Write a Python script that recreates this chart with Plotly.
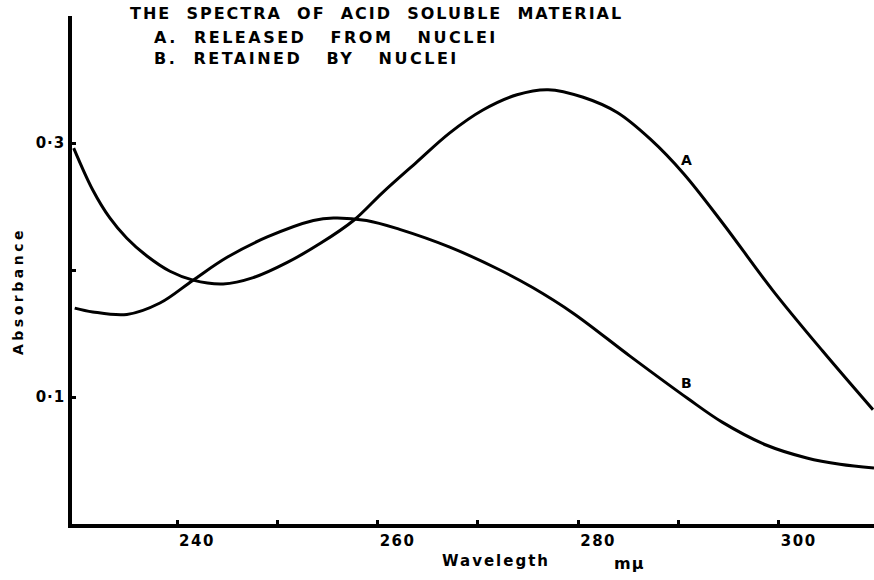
import plotly.graph_objects as go

# Curve A: released from nuclei
a_wavelength = [229.7, 231.6, 233.3, 235.0, 237.0, 239.3, 241.6, 244.6, 247.6, 251.0,
                254.3, 257.6, 260.5, 263.9, 267.2, 270.5, 273.9, 277.0, 280.5, 283.9,
                287.2, 290.5, 294.4, 299.4, 304.4, 309.4]
a_absorbance = [0.296, 0.263, 0.241, 0.225, 0.211, 0.199, 0.192, 0.189, 0.194, 0.206,
                0.221, 0.239, 0.261, 0.285, 0.308, 0.326, 0.338, 0.342, 0.336, 0.324,
                0.303, 0.276, 0.237, 0.184, 0.136, 0.090]

# Curve B: retained by nuclei
b_wavelength = [229.8, 231.6, 235.0, 238.3, 241.6, 245.0, 249.0, 253.6, 255.6, 258.9,
                262.2, 267.2, 272.2, 275.5, 279.5, 285.2, 290.9, 294.4, 298.8, 302.8,
                306.1, 309.5]
b_absorbance = [0.170, 0.167, 0.165, 0.174, 0.192, 0.210, 0.226, 0.239, 0.241, 0.239,
                0.232, 0.218, 0.200, 0.186, 0.166, 0.132, 0.099, 0.080, 0.062, 0.052,
                0.047, 0.044]

x_tick_values = [240, 250, 260, 270, 280, 290, 300]
x_tick_labels = ["240", "", "260", "", "280", "", "300"]
y_tick_values = [0.1, 0.2, 0.3, 0.4]
y_tick_labels = ["0·1", "", "0·3", ""]

title_lines = ["THE  SPECTRA  OF  ACID  SOLUBLE  MATERIAL",
               "A.  RELEASED   FROM   NUCLEI",
               "B.  RETAINED   BY   NUCLEI"]

FONT = "DejaVu Sans"


def spaced(t, ls, bold=True):
    t = t.replace(" ", "\u00a0")
    s = f'<span style="letter-spacing:{ls}px">{t}</span>'
    return f"<b>{s}</b>" if bold else s


fig = go.Figure()
fig.add_trace(go.Scatter(x=a_wavelength, y=a_absorbance, mode="lines", name="A",
                         line=dict(color="black", width=3, shape="spline", smoothing=1.0)))
fig.add_trace(go.Scatter(x=b_wavelength, y=b_absorbance, mode="lines", name="B",
                         line=dict(color="black", width=3, shape="spline", smoothing=1.0)))

fig.update_layout(
    width=874, height=580,
    margin=dict(l=72, r=0, t=16, b=56),
    paper_bgcolor="white", plot_bgcolor="white",
    showlegend=False,
    font=dict(family=FONT, color="black", size=14),
)
fig.update_xaxes(range=[229.53, 309.5], showgrid=False, zeroline=False,
                 showline=True, linecolor="black", linewidth=3.5,
                 tickmode="array", tickvals=x_tick_values,
                 ticktext=[spaced(t, 1.5) if t else "" for t in x_tick_labels],
                 ticks="inside", ticklen=4, tickwidth=3, tickcolor="black",
                 ticklabelshift=20, tickfont=dict(size=15, family=FONT))
fig.update_yaxes(range=[0, 0.4], showgrid=False, zeroline=False,
                 showline=True, linecolor="black", linewidth=3.5,
                 tickmode="array", tickvals=y_tick_values,
                 ticktext=[spaced(t, 1) if t else "" for t in y_tick_labels],
                 ticks="inside", ticklen=4, tickwidth=3, tickcolor="black",
                 tickfont=dict(size=15, family=FONT))

# title block
title_pos = [(128, 13), (152, 37), (152, 59)]
title_ls = [2.0, 2.5, 2.5]
for (px, py), line, ls in zip(title_pos, title_lines, title_ls):
    fig.add_annotation(x=(px - 72) / 802, y=(524 - py) / 508, xref="paper", yref="paper",
                       text=spaced(line, ls), showarrow=False,
                       xanchor="left", yanchor="middle",
                       font=dict(size=16, family=FONT))

# axis titles
fig.add_annotation(x=(440 - 72) / 802, y=(524 - 561) / 508, xref="paper", yref="paper",
                   text=spaced("Wavelegth", 2), showarrow=False, xanchor="left",
                   yanchor="middle", font=dict(size=15, family=FONT))
fig.add_annotation(x=(612 - 72) / 802, y=(524 - 563) / 508, xref="paper", yref="paper",
                   text=spaced("m\u03bc", 1), showarrow=False, xanchor="left",
                   yanchor="middle", font=dict(size=16, family=FONT))
fig.add_annotation(x=(18 - 72) / 802, y=(524 - 291) / 508, xref="paper", yref="paper",
                   text=spaced("Absorbance", 3.5), showarrow=False, textangle=-90,
                   xanchor="center", yanchor="middle", font=dict(size=14, family=FONT))

# curve labels
fig.add_annotation(x=290.85, y=0.287, text="<b>A</b>", showarrow=False,
                   font=dict(size=14, family=FONT))
fig.add_annotation(x=290.85, y=0.111, text="<b>B</b>", showarrow=False,
                   font=dict(size=14, family=FONT))

fig.write_html("out.html", config={"displayModeBar": False},
               post_script="document.body.style.margin='0';")
